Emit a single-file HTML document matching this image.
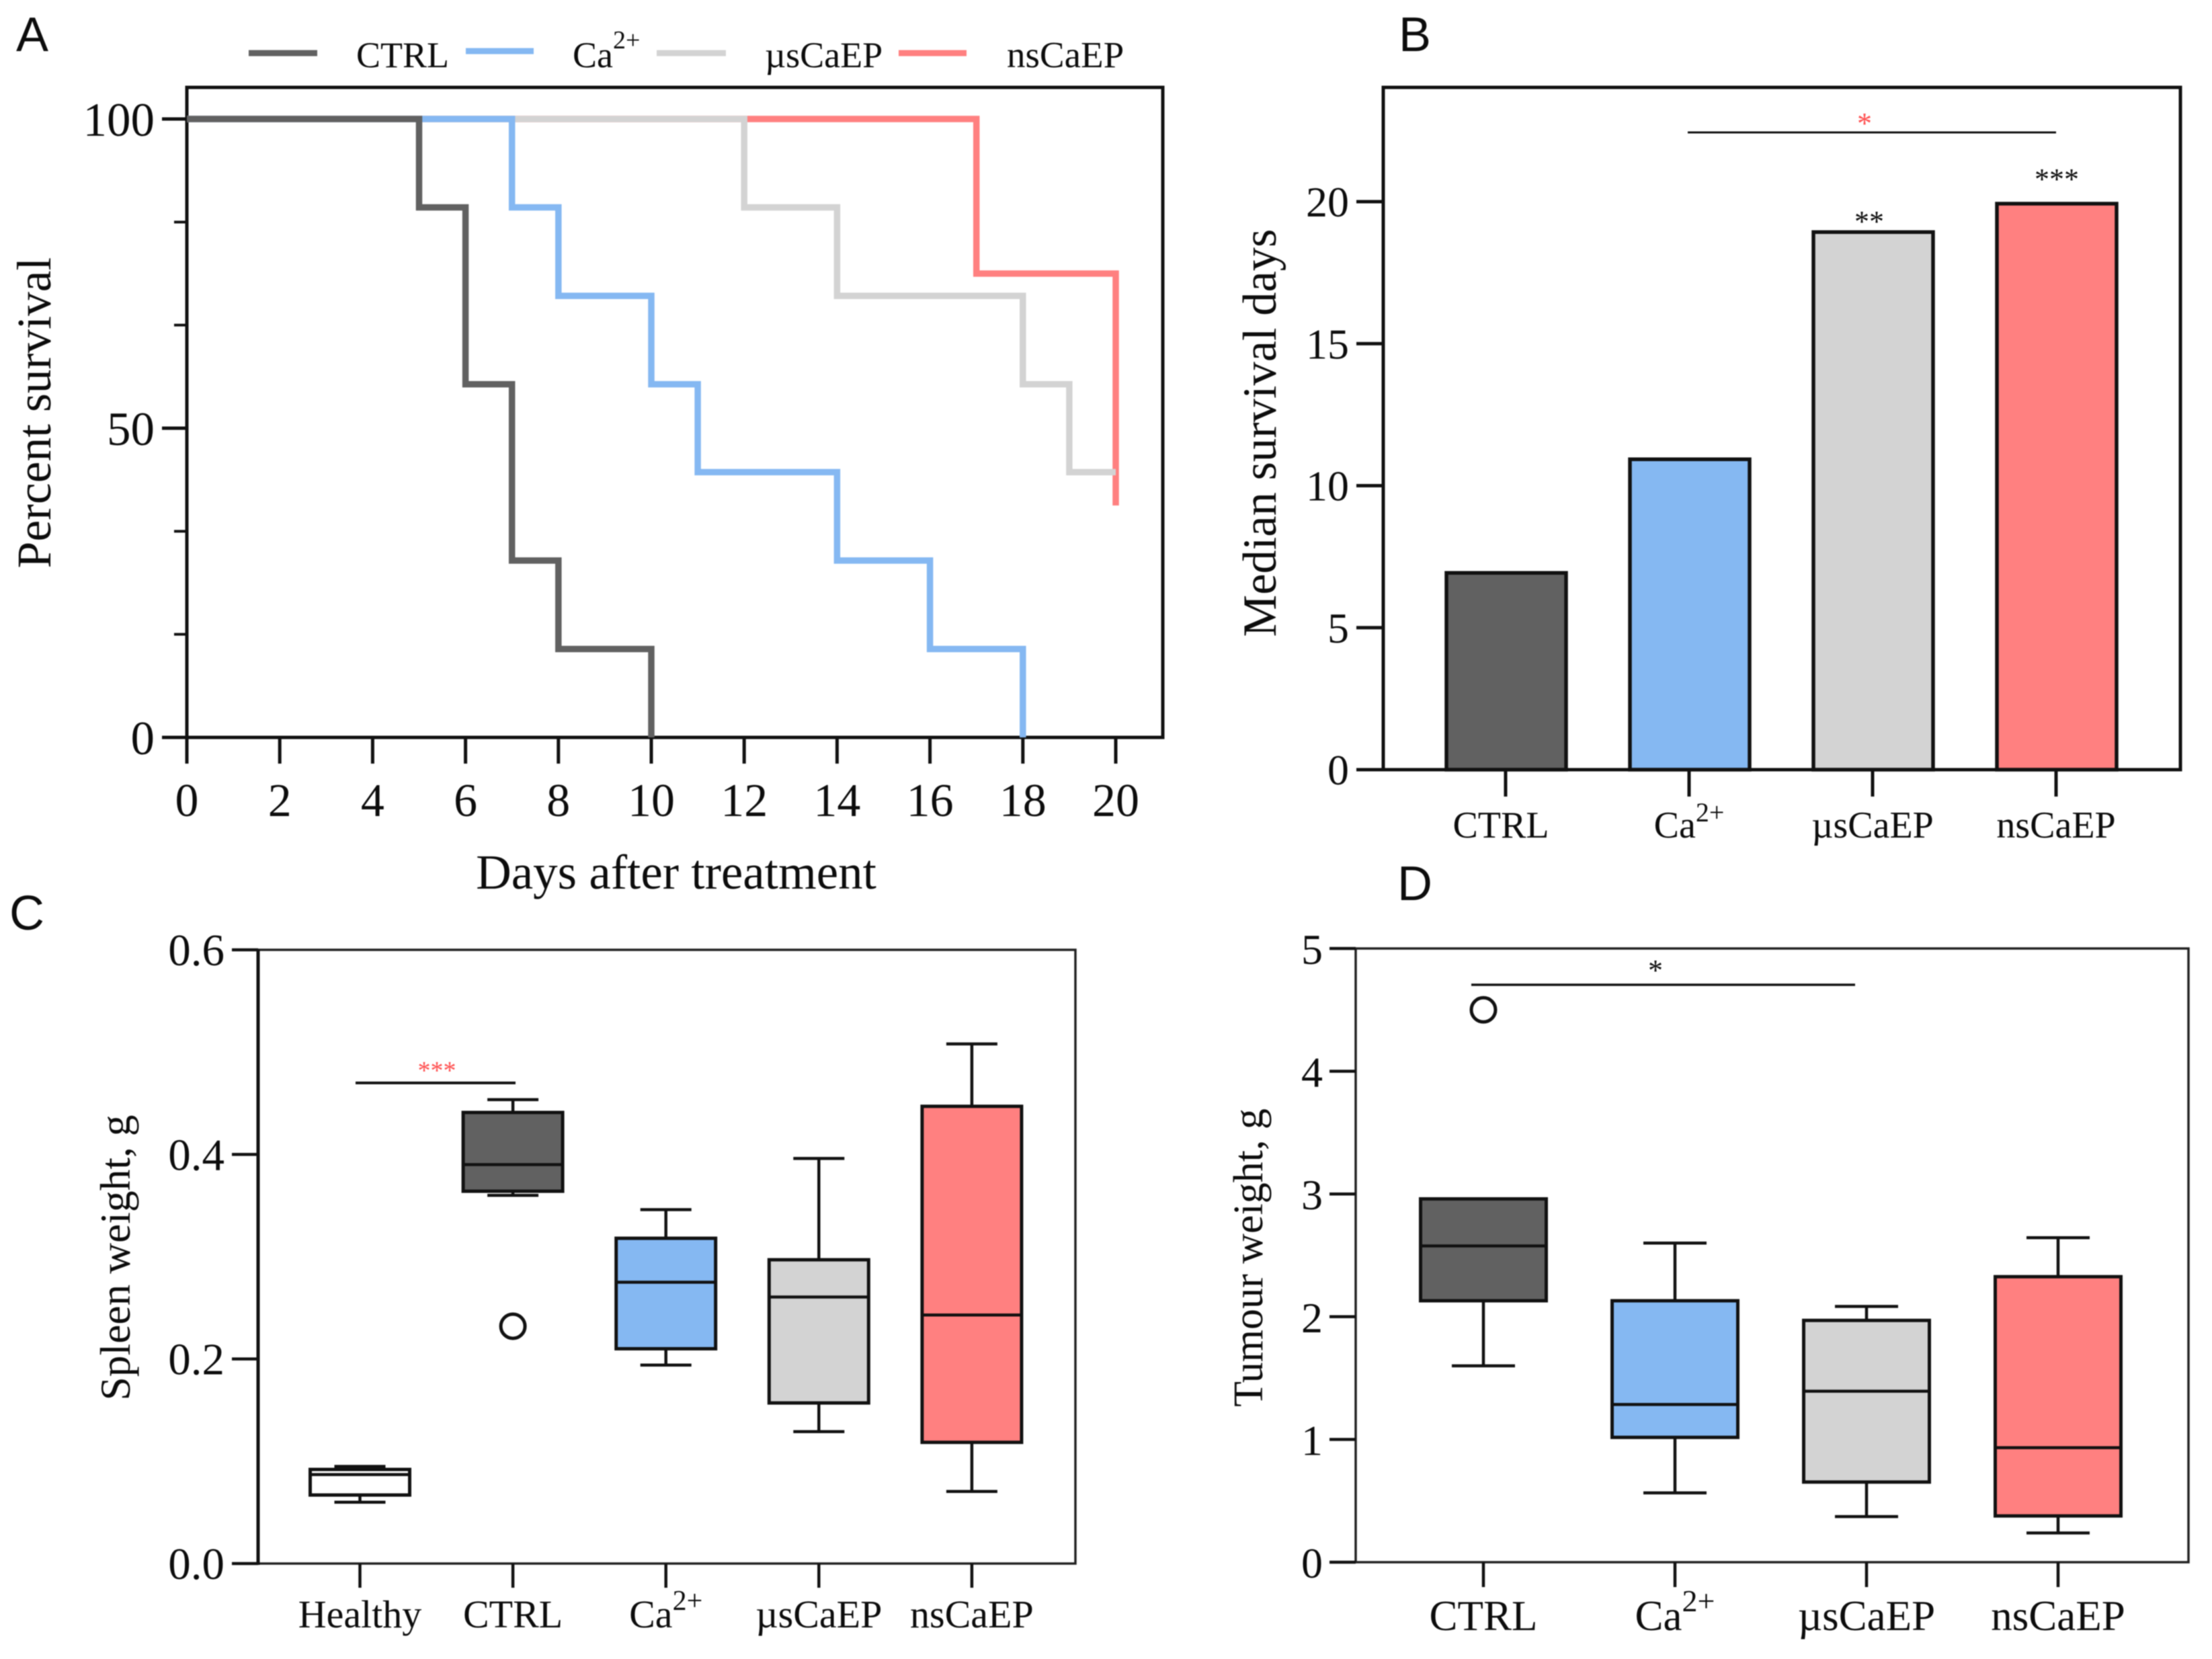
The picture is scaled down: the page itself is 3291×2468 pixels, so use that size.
<!DOCTYPE html>
<html>
<head>
<meta charset="utf-8">
<title>Survival, spleen and tumour weight panels</title>
<style>
html,body{margin:0;padding:0;background:#fff;width:3291px;height:2468px;overflow:hidden}
svg{display:block;filter:blur(0.9px)}
text{font-family:"Liberation Serif",serif;fill:#0c0c0c}
.sans{font-family:"Liberation Sans",sans-serif}
</style>
</head>
<body>
<svg id="fig" xmlns="http://www.w3.org/2000/svg" width="3291" height="2468" viewBox="0 0 3291 2468">
  <rect x="0" y="0" width="3291" height="2468" fill="#fff"/>

  <text class="sans" x="24" y="76" font-size="72">A</text>
  <text class="sans" x="2081" y="76" font-size="72">B</text>
  <text class="sans" x="14" y="1383" font-size="72">C</text>
  <text class="sans" x="2079" y="1339" font-size="72">D</text>

  <g id="panelA">
    <rect x="278" y="130" width="1452" height="967" fill="none" stroke="#111" stroke-width="5"/>
    <text transform="translate(75,614) rotate(-90)" text-anchor="middle" font-size="71.5">Percent survival</text>
    <text x="1006" y="1322" text-anchor="middle" font-size="73">Days after treatment</text>
  </g>

  <g>
    <line x1="370" x2="472" y1="79" y2="79" stroke="#616161" stroke-width="9"/>
    <text x="530" y="100" font-size="54">CTRL</text>
    <line x1="693" x2="794" y1="76" y2="76" stroke="#85b8f2" stroke-width="9"/>
    <text x="852" y="100" font-size="54">Ca<tspan dy="-28" font-size="38">2+</tspan></text>
    <line x1="977" x2="1080" y1="79" y2="79" stroke="#d3d3d3" stroke-width="9"/>
    <text x="1138" y="100" font-size="54">µsCaEP</text>
    <line x1="1337" x2="1438" y1="79" y2="79" stroke="#ff8080" stroke-width="9"/>
    <text x="1498" y="100" font-size="55">nsCaEP</text>
  </g>

  <g id="panelB">
    <rect x="2058" y="130" width="1186" height="1015" fill="none" stroke="#111" stroke-width="5"/>
    <text transform="translate(1898,644) rotate(-90)" text-anchor="middle" font-size="70.5">Median survival days</text>
    <line x1="2511" x2="3059" y1="197" y2="197" stroke="#111" stroke-width="3"/>
    <text x="2774" y="198" text-anchor="middle" font-size="44" style="fill:#ff4d4d">*</text>
    <text x="2781" y="344" text-anchor="middle" font-size="44">**</text>
    <text x="3060" y="281" text-anchor="middle" font-size="44">***</text>
  </g>

  <g id="panelC">
    <rect x="384" y="1413" width="1216" height="913" fill="none" stroke="#222" stroke-width="3.5"/>
    <line x1="384" x2="384" y1="1412" y2="2328" stroke="#111" stroke-width="5"/>
    <text transform="translate(193,1871) rotate(-90)" text-anchor="middle" font-size="63.5">Spleen weight, g</text>
    <line x1="529" x2="767" y1="1611" y2="1611" stroke="#111" stroke-width="4"/>
    <text x="650" y="1605" text-anchor="middle" font-size="38" style="fill:#ff4d4d">***</text>
  </g>

  <g id="panelD">
    <rect x="2017" y="1411" width="1239" height="913" fill="none" stroke="#222" stroke-width="3.5"/>
    <text transform="translate(1878,1871) rotate(-90)" text-anchor="middle" font-size="62">Tumour weight, g</text>
    <line x1="2189" x2="2760" y1="1465" y2="1465" stroke="#111" stroke-width="3.5"/>
    <text x="2463" y="1458" text-anchor="middle" font-size="44">*</text>
  </g>
</svg>

<script>
/* Panel A data */
const survivalXTicks = [0, 2, 4, 6, 8, 10, 12, 14, 16, 18, 20];
const survivalYMajor = [0, 50, 100];
const survivalYMinor = [16.67, 33.33, 66.67, 83.33];
const nsDays = [0, 17, 20, 20];
const nsSurvival = [100, 75, 37.5, 37.5];
const usDays = [0, 12, 14, 18, 19, 20];
const usSurvival = [100, 85.7, 71.4, 57.1, 42.9, 42.9];
const caDays = [0, 7, 8, 10, 11, 14, 16, 18];
const caSurvival = [100, 85.7, 71.4, 57.1, 42.9, 28.6, 14.3, 0];
const ctrlDays = [0, 5, 6, 7, 8, 10];
const ctrlSurvival = [100, 85.7, 57.1, 28.6, 14.3, 0];

/* Panel B data */
const medianCategories = ['CTRL', 'Ca2+', 'µsCaEP', 'nsCaEP'];
const medianDays = [7, 11, 19, 20];
const medianTicks = [0, 5, 10, 15, 20];

/* Panel C data */
const spleenCategories = ['Healthy', 'CTRL', 'Ca2+', 'µsCaEP', 'nsCaEP'];
const spleenTicks = ['0.0', '0.2', '0.4', '0.6'];
const spleenLow = [0.060, 0.360, 0.194, 0.129, 0.0705];
const spleenQ1 = [0.067, 0.364, 0.210, 0.157, 0.1185];
const spleenMedian = [0.087, 0.390, 0.275, 0.2606, 0.243];
const spleenQ3 = [0.092, 0.441, 0.318, 0.297, 0.447];
const spleenHigh = [0.095, 0.4535, 0.346, 0.396, 0.508];
const spleenOutlierGroup = [1];
const spleenOutlierValue = [0.232];

/* Panel D data */
const tumourCategories = ['CTRL', 'Ca2+', 'µsCaEP', 'nsCaEP'];
const tumourTicks = ['0', '1', '2', '3', '4', '5'];
const tumourLow = [1.60, 0.565, 0.372, 0.238];
const tumourQ1 = [2.13, 1.017, 0.653, 0.377];
const tumourMedian = [2.577, 1.285, 1.393, 0.933];
const tumourQ3 = [2.96, 2.13, 1.97, 2.326];
const tumourHigh = [2.96, 2.60, 2.084, 2.644];
const tumourOutlierGroup = [0];
const tumourOutlierValue = [4.5];

const NS = 'http://www.w3.org/2000/svg';
const INK = '#111';
const DARK = '#616161', BLUE = '#85b8f2', GREY = '#d3d3d3', RED = '#ff8080';

/* axis functions */
const xA = d => 278 + d * 69.1;
const yA = v => 1097 - v * 9.2;
const xB = i => 2240 + i * 273;
const yB = v => 1145 - v * 42.25;
const xC = i => 535.5 + i * 227.6;
const yC = v => 2326 - v * (913 / 0.6);
const xD = i => 2207 + i * 285;
const yD = v => 2324 - v * (913 / 5);

function mk(parent, tag, attrs) {
  const el = document.createElementNS(NS, tag);
  for (const k in attrs) el.setAttribute(k, attrs[k]);
  parent.appendChild(el);
  return el;
}
function seg(parent, x1, y1, x2, y2, w, color) {
  return mk(parent, 'line', { x1: x1, y1: y1, x2: x2, y2: y2, 'stroke-width': w, stroke: color || INK });
}
function label(parent, x, y, str, size, anchor, supSize, supRise) {
  const el = mk(parent, 'text', { x: x, y: y, 'font-size': size, 'text-anchor': anchor });
  if (str === 'Ca2+') {
    el.appendChild(document.createTextNode('Ca'));
    const s = mk(el, 'tspan', { dy: -supRise, 'font-size': supSize });
    s.textContent = '2+';
  } else {
    el.textContent = str;
  }
  return el;
}

const A = document.getElementById('panelA');
const B = document.getElementById('panelB');
const C = document.getElementById('panelC');
const D = document.getElementById('panelD');

/* --- Panel A --- */
survivalXTicks.forEach(function (t) {
  const tick = seg(A, xA(t), 1097, xA(t), 1136, 5);
  
  
  const lab = label(A, xA(t), 1214, String(t), 70, 'middle');
  
  
});
survivalYMajor.forEach(function (t) {
  const tick = seg(A, 241, yA(t), 278, yA(t), 5);
  
  
  const lab = label(A, 230, yA(t) + 25, String(t), 71, 'end');
  
  
});
survivalYMinor.forEach(function (t) {
  const tick = seg(A, 259, yA(t), 278, yA(t), 4);
  
  
});
function stepPath(days, vals) {
  let d = 'M' + xA(days[0]) + ' ' + yA(vals[0]);
  for (let i = 1; i < days.length; i++) {
    d += ' H' + xA(days[i]) + ' V' + yA(vals[i]);
  }
  return d;
}
const nsLine = mk(A, 'path', { d: stepPath(nsDays, nsSurvival), fill: 'none', stroke: RED, 'stroke-width': 9.5 });


const usLine = mk(A, 'path', { d: stepPath(usDays, usSurvival), fill: 'none', stroke: GREY, 'stroke-width': 9.5 });


const caLine = mk(A, 'path', { d: stepPath(caDays, caSurvival), fill: 'none', stroke: BLUE, 'stroke-width': 9.5 });


const ctrlLine = mk(A, 'path', { d: stepPath(ctrlDays, ctrlSurvival), fill: 'none', stroke: DARK, 'stroke-width': 9.5 });



/* --- Panel B --- */
const barFills = [DARK, BLUE, GREY, RED];
medianTicks.forEach(function (t) {
  const tick = seg(B, 2018, yB(t), 2058, yB(t), 5);
  
  
  const lab = label(B, 2007, yB(t) + 22, String(t), 64, 'end');
  
  
});
medianCategories.forEach(function (cat, i) {
  const barTop = yB(medianDays[i]) + 3;
  const bar = mk(B, 'rect', { x: xB(i) - 88, y: barTop, width: 178, height: yB(0) - barTop, fill: barFills[i], stroke: INK, 'stroke-width': 5.5 });
  
  
  const tick = seg(B, xB(i), 1145, xB(i), 1185, 5);
  
  
  const lab = label(B, xB(i) - (i === 0 ? 7 : 0), 1246, cat, 56, 'middle', 40, 24);
  
  
});

/* --- Box plots shared drawing --- */
function drawBoxes(panel, prefix, xFn, yFn, cats, low, q1, med, q3, high, fills, halfW, capW) {
  cats.forEach(function (cat, i) {
    const x = xFn(i);
    const stem = seg(panel, x, yFn(low[i]), x, yFn(high[i]), 4.5);
    
    
    const capLow = seg(panel, x - capW, yFn(low[i]), x + capW, yFn(low[i]), 4.5);
    
    
    if (high[i] > q3[i]) {
      const capHigh = seg(panel, x - capW, yFn(high[i]), x + capW, yFn(high[i]), 4.5);
      
      
    }
    const box = mk(panel, 'rect', { x: x - halfW, y: yFn(q3[i]), width: 2 * halfW, height: yFn(q1[i]) - yFn(q3[i]), fill: fills[i], stroke: INK, 'stroke-width': 5 });
    
    
    const medLine = seg(panel, x - halfW, yFn(med[i]), x + halfW, yFn(med[i]), 4.5);
    
    
  });
}

/* --- Panel C --- */
spleenTicks.forEach(function (t) {
  const tick = seg(C, 345, yC(+t), 384, yC(+t), 4.5);
  
  
  const lab = label(C, 334, yC(+t) + 23, t, 67, 'end');
  
  
});
spleenCategories.forEach(function (cat, i) {
  const tick = seg(C, xC(i), 2326, xC(i), 2362, 4.5);
  
  
  const lab = label(C, xC(i), 2421, cat, 58, 'middle', 42, 26);
  
  
});
drawBoxes(C, 'spleen', xC, yC, spleenCategories, spleenLow, spleenQ1, spleenMedian, spleenQ3, spleenHigh, ['#ffffff', DARK, BLUE, GREY, RED], 74, 38);
spleenOutlierGroup.forEach(function (g, i) {
  const o = mk(C, 'circle', { cx: xC(g), cy: yC(spleenOutlierValue[i]), r: 18, fill: 'none', stroke: INK, 'stroke-width': 5 });
  
  
});

/* --- Panel D --- */
tumourTicks.forEach(function (t) {
  const tick = seg(D, 1978, yD(+t), 2017, yD(+t), 4.5);
  
  
  const lab = label(D, 1968, yD(+t) + 23, t, 64, 'end');
  
  
});
tumourCategories.forEach(function (cat, i) {
  const tick = seg(D, xD(i), 2324, xD(i), 2361, 4.5);
  
  
  const lab = label(D, xD(i), 2425, cat, 63, 'middle', 46, 28);
  
  
});
drawBoxes(D, 'tumour', xD, yD, tumourCategories, tumourLow, tumourQ1, tumourMedian, tumourQ3, tumourHigh, [DARK, BLUE, GREY, RED], 93.5, 47);
tumourOutlierGroup.forEach(function (g, i) {
  const o = mk(D, 'circle', { cx: xD(g), cy: yD(tumourOutlierValue[i]), r: 18, fill: 'none', stroke: INK, 'stroke-width': 5 });
  
  
});
</script>
</body>
</html>
